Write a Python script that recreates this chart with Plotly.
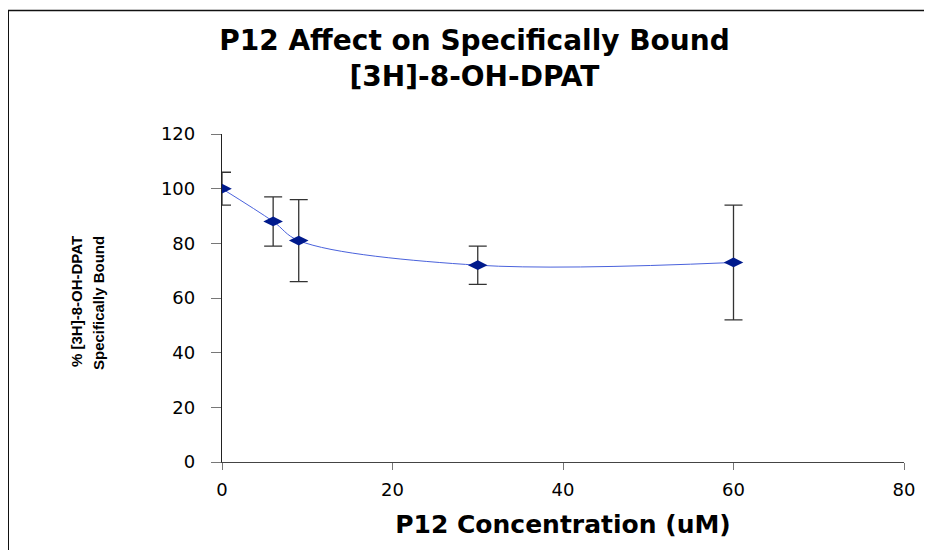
import plotly.graph_objects as go

# Data
conc = [0, 6, 9, 30, 60]            # P12 concentration (uM)
pct_bound = [100, 88, 81, 72, 73]   # % specifically bound
err = [6, 9, 15, 7, 21]             # error bar half-lengths

title_text = "P12 Affect on Specifically Bound<br>[3H]-8-OH-DPAT"
x_title = "P12 Concentration (uM)"
y_title_1 = "% [3H]-8-OH-DPAT"
y_title_2 = "Specifically Bound"
x_ticks = [0, 20, 40, 60, 80]
y_ticks = [0, 20, 40, 60, 80, 100, 120]

OFF = 8  # page body margin
W, H = 932 - OFF, 550 - OFF
L = 222 - OFF
T = 134 - OFF
R = W - (904 - OFF)
B = H - (462 - OFF)
pw, ph = W - L - R, H - T - B


def px(xpage):
    return (xpage - OFF - L) / pw


def py(ypage):
    return (H - B - (ypage - OFF)) / ph


fig = go.Figure()
fig.add_trace(go.Scatter(
    x=conc, y=pct_bound,
    mode="lines+markers",
    line=dict(color="#4a62dc", width=1, shape="spline", smoothing=1),
    marker=dict(symbol="diamond-wide", size=14, color="#001a8c"),
    error_y=dict(type="data", array=err, visible=True,
                 color="#333333", thickness=1.3, width=9),
    showlegend=False,
))

font_main = "DejaVu Sans, Liberation Sans, Arial, sans-serif"
font_ytitle = "Liberation Sans, Arial, sans-serif"

fig.update_layout(
    width=W, height=H,
    margin=dict(l=L, r=R, t=T, b=B),
    paper_bgcolor="white", plot_bgcolor="white",
    title=dict(text="<b>" + title_text + "</b>",
               x=(474.5 - OFF) / W, xanchor="center", xref="container",
               y=1 - 42 / H, yanchor="top", yref="container",
               font=dict(family=font_main, size=28, color="black")),
    xaxis=dict(range=[0, 80], tickvals=x_ticks, showgrid=False, zeroline=False,
               showline=True, linecolor="#444444", linewidth=1.2,
               ticks="outside", ticklen=7, tickcolor="#777777", tickwidth=1,
               ticklabelstandoff=4,
               tickfont=dict(family=font_main, size=18, color="black"),
               title=dict(text="<b>" + x_title + "</b>", standoff=16,
                          font=dict(family=font_main, size=25, color="black"))),
    yaxis=dict(range=[0, 120], tickvals=y_ticks, showgrid=False, zeroline=False,
               showline=True, linecolor="#222222", linewidth=1.3,
               ticks="outside", ticklen=10, tickcolor="#777777", tickwidth=1,
               ticklabelstandoff=12,
               tickfont=dict(family=font_main, size=18, color="black")),
    annotations=[
        dict(text="<b>" + y_title_1 + "</b>", textangle=-90,
             xref="paper", yref="paper", x=px(76), y=py(302),
             xanchor="center", yanchor="middle", showarrow=False,
             font=dict(family=font_ytitle, size=15, color="black")),
        dict(text="<b>" + y_title_2 + "</b>", textangle=-90,
             xref="paper", yref="paper", x=px(98), y=py(303),
             xanchor="center", yanchor="middle", showarrow=False,
             font=dict(family=font_ytitle, size=15, color="black")),
    ],
    shapes=[
        dict(type="line", xref="paper", yref="paper",
             x0=px(8), x1=px(8), y0=py(600), y1=py(10.5),
             line=dict(color="#111111", width=2)),
        dict(type="line", xref="paper", yref="paper",
             x0=px(8), x1=px(960), y0=py(10.5), y1=py(10.5),
             line=dict(color="#111111", width=1.5)),
    ],
)

fig.write_html("out.html")
